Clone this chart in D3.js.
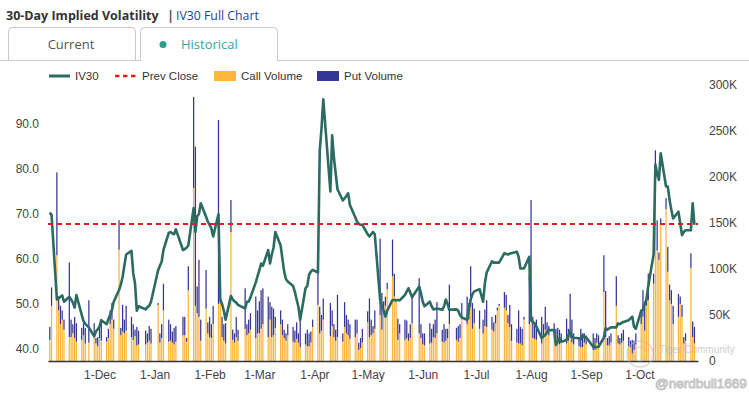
<!DOCTYPE html>
<html>
<head>
<meta charset="utf-8">
<script src="https://cdn.jsdelivr.net/npm/d3@7"></script>
<style>
  html, body { margin: 0; padding: 0; background: #fff; }
  svg { display: block; }
</style>
</head>
<body>
<svg id="chart" width="749" height="396"></svg>
<script>
// ---------- DATA ----------
const startDate = "2022-11-03";
const endDate = "2023-11-01";
const holidays = ["2022-11-24","2022-12-26","2023-01-02","2023-01-16","2023-02-20",
                  "2023-04-07","2023-05-29","2023-06-19","2023-07-04","2023-09-04"];

// IV30 per trading day (Nov-2022 ... Nov-1-2023)
const iv30 = [
  // Nov
  70.3, 69.8, 51.0, 51.3, 51.6, 51.9, 50.5, 51.6, 51.0, 50.3, 49.2, 52.0, 47.6, 46.2, 45.6, 44.8, 42.8, 43.9, 44.4,
  // Dec
  45.0, 46.4, 45.5, 46.6, 47.6, 48.7, 50.5, 53.1, 54.3, 56.0, 58.5, 61.0, 61.8, 56.8, 54.6, 48.5, 49.5, 48.8, 49.3, 49.6, 50.5,
  // Jan
  57.5, 58.5, 59.4, 62.0, 65.8, 66.0, 65.7, 65.5, 66.6, 62.0, 62.2, 62.5, 63.0, 71.3, 66.0, 69.5, 70.0, 72.4, 69.4, 68.3,
  // Feb
  67.6, 66.8, 65.0, 70.0, 51.0, 50.0, 48.5, 46.5, 51.8, 51.0, 50.6, 50.3, 49.8, 49.0, 50.5, 50.5, 51.5, 54.8, 56.2,
  // Mar
  57.5, 59.0, 58.5, 62.0, 59.0, 61.0, 62.5, 66.0, 63.0, 60.0, 57.2, 55.5, 55.0, 54.0, 52.7, 51.0, 49.4, 46.5, 53.5, 54.0, 56.5, 57.2, 57.6,
  // Apr
  57.0, 84.0, 89.0, 95.5, 75.0, 87.5, 82.5, 79.0, 75.5, 73.0, 73.5, 74.0, 74.6, 72.0, 69.3, 68.3, 67.8, 67.6, 67.6,
  // May
  65.5, 65.0, 65.5, 66.0, 65.5, 51.0, 49.5, 48.5, 47.2, 48.5, 50.9, 50.9, 50.9, 50.9, 50.8, 52.0, 52.8, 53.5, 52.5, 51.5, 53.9, 52.4,
  // Jun
  50.5, 49.5, 50.5, 49.5, 48.8, 48.9, 49.0, 48.7, 49.5, 51.0, 50.0, 48.7, 48.8, 48.5, 47.5, 47.0, 46.5, 49.0, 51.0, 52.2, 52.8,
  // Jul
  53.3, 50.5, 54.6, 57.0, 59.5, 59.2, 59.2, 59.2, 59.2, 61.3, 61.1, 61.0, 61.2, 61.3, 61.6, 60.5, 57.9, 57.9, 57.9, 60.5,
  // Aug
  46.4, 46.0, 45.7, 45.0, 42.4, 42.8, 43.1, 43.8, 44.2, 44.2, 40.9, 41.8, 42.4, 41.6, 42.0, 43.0, 43.9, 42.7, 42.5, 42.4, 42.2, 43.1, 42.6,
  // Sep
  42.6, 40.5, 40.5, 40.4, 40.5, 42.5, 44.6, 44.3, 44.6, 44.8, 44.8, 45.7, 45.5, 45.8, 46.0, 46.4, 46.8, 47.2, 44.9, 44.5,
  // Oct + Nov 1
  48.5, 48.7, 50.0, 51.0, 54.0, 61.0, 81.0, 79.0, 77.6, 83.5, 76.1, 76.1, 73.1, 70.9, 69.0, 70.5, 67.9, 65.3, 66.0, 66.4, 66.4, 72.4, 67.6
];

// Call volume (thousands)
const callVolume = [
  23, 60, 115, 55, 40, 45, 34, 26, 26, 30, 25, 21, 23, 28, 19, 20, 30, 19, 16,
  25, 22, 21, 25, 40, 45, 35, 121, 28, 32, 30, 33, 26, 23, 27, 17, 18, 18, 20, 22, 19,
  61, 20, 25, 55, 21, 22, 20, 18, 21, 28, 28, 21, 77, 188, 60, 52, 48, 22, 57, 30,
  26, 25, 40, 62, 63, 26, 22, 19, 140, 23, 20, 26, 22, 35, 28, 30, 34, 25, 30,
  30, 35, 40, 26, 45, 26, 28, 36, 40, 28, 25, 22, 28, 21, 20, 24, 20, 15, 18, 16, 16, 20, 37,
  61, 30, 33, 45, 27, 38, 26, 22, 26, 21, 37, 30, 28, 24, 26, 30, 12, 14, 20,
  42, 26, 28, 30, 35, 50, 34, 55, 60, 78, 92, 70, 64, 23, 30, 23, 25, 22, 25, 41, 30, 25,
  18, 17, 19, 20, 26, 25, 30, 21, 20, 22, 25, 40, 23, 21, 25, 48, 40, 45, 59, 35, 41,
  35, 30, 38, 37, 34, 32, 41, 55, 60, 58, 55, 41, 37, 22, 20, 19, 19, 17, 45, 40,
  45, 25, 24, 23, 19, 26, 34, 30, 28, 34, 25, 19, 18, 20, 19, 22, 25, 20, 18, 16, 15, 15, 20,
  18, 12, 12, 20, 18, 75, 26, 17, 17, 20, 60, 19, 18, 20, 22, 16, 15, 8, 12, 18,
  40, 48, 33, 60, 66, 84, 180, 120, 110, 150, 165, 97, 66, 62, 40, 48, 62, 48, 19, 22, 101, 26, 19
];

// Put volume (thousands)
const putVolume = [
  14, 20, 90, 15, 20, 10, 11, 81, 19, 10, 23, 20, 13, 13, 17, 46, 11, 6, 10,
  15, 23, 5, 10, 15, 18, 10, 32, 8, 29, 15, 27, 22, 17, 7, 20, 15, 15, 10, 16, 16,
  2, 10, 15, 29, 24, 18, 12, 18, 17, 20, 20, 4, 26, 99, 173, 29, 62, 23, 42, 12,
  22, 15, 20, 200, 29, 22, 18, 22, 35, 11, 10, 22, 12, 44, 12, 15, 18, 45, 25,
  35, 42, 39, 44, 19, 33, 29, 12, 15, 17, 9, 8, 12, 16, 13, 18, 10, 30, 12, 18, 14, 12, 8,
  65, 29, 17, 23, 36, 17, 14, 12, 46, 9, 27, 20, 17, 16, 19, 15, 8, 11, 15,
  12, 42, 17, 8, 20, 83, 40, 10, 10, 7, 40, 25, 2, 23, 10, 22, 19, 8, 15, 29, 60, 15,
  12, 13, 22, 15, 14, 20, 34, 13, 20, 13, 10, 43, 13, 17, 15, 15, 30, 18, 44, 28, 16,
  20, 15, 18, 29, 14, 10, 9, 3, 2, 17, 17, 9, 24, 18, 15, 36, 18, 18, 3, 53,
  130, 23, 16, 22, 29, 14, 25, 12, 10, 7, 10, 17, 16, 10, 27, 13, 48, 25, 12, 10, 20, 15, 10,
  10, 18, 13, 10, 10, 40, 50, 8, 10, 10, 32, 9, 7, 10, 12, 10, 7, 15, 10, 12,
  15, 29, 26, 10, 29, 11, 49, 33, 8, 5, 12, 27, 17, 15, 20, 25, 8, 13, 7, 8, 16, 17, 18
];

const prevClose = 67.8;
const ivTicks = [40, 50, 60, 70, 80, 90];
const volTicks = [0, 50000, 100000, 150000, 200000, 250000, 300000];
const legendItems = ["IV30", "Prev Close", "Call Volume", "Put Volume"];

// ---------- BUILD TRADING DAYS ----------
const parse = d3.timeParse("%Y-%m-%d");
const fmtKey = d3.timeFormat("%Y-%m-%d");
const hol = new Set(holidays);
const days = d3.timeDay.range(parse(startDate), d3.timeDay.offset(parse(endDate), 1))
  .filter(d => d.getDay() !== 0 && d.getDay() !== 6 && !hol.has(fmtKey(d)));
const n = Math.min(days.length, iv30.length, callVolume.length, putVolume.length);
const data = d3.range(n).map(i => ({
  date: days[i], iv: iv30[i], call: callVolume[i] * 1000, put: putVolume[i] * 1000
}));

// ---------- SCALES ----------
const svg = d3.select("#chart");
const pL = 48, pR = 698, pT = 85, pB = 361;
const x = d3.scaleTime()
  .domain([parse("2022-11-02"), parse("2023-11-03")])
  .range([pL, pR]);
const yIV = d3.scaleLinear().domain([40 - 12 / 4.5, 40 + 264 / 4.5]).range([pB, pT]);
const yVol = d3.scaleLinear().domain([0, 300000]).range([pB, pT]);

const FONT = "'Liberation Sans', Arial, sans-serif";
const TFONT = "'Open Sans', 'Noto Sans', sans-serif";
const cCall = "#fdb53c", cPut = "#353596", cIV = "#2b6b62", cPrev = "#e3191c";

// ---------- HEADER ----------
svg.append("text").attr("x", 6).attr("y", 20)
  .attr("font-family", TFONT).attr("font-weight", 700).attr("font-size", 12.5)
  .attr("fill", "#333").text("30-Day Implied Volatility");
svg.append("text").attr("x", 167).attr("y", 20)
  .attr("font-family", TFONT).attr("font-weight", 700).attr("font-size", 13)
  .attr("fill", "#555").text("|");
svg.append("text").attr("x", 176).attr("y", 20)
  .attr("font-family", TFONT).attr("font-size", 12.3)
  .attr("fill", "#1f3f93").text("IV30 Full Chart");

// tabs
svg.append("line").attr("x1", 0).attr("x2", 749).attr("y1", 60.5).attr("y2", 60.5)
  .attr("stroke", "#c8c8c8");
function tab(x0, x1, active) {
  const r = 4, y0 = 27.5, y1 = 60.5;
  const p = `M${x0},${y1} L${x0},${y0 + r} Q${x0},${y0} ${x0 + r},${y0} L${x1 - r},${y0} Q${x1},${y0} ${x1},${y0 + r} L${x1},${y1}` + (active ? "" : " Z");
  if (active) {
    svg.append("rect").attr("x", x0 + 0.5).attr("y", 58).attr("width", x1 - x0 - 1).attr("height", 4).attr("fill", "#fff");
  }
  svg.append("path").attr("d", p).attr("fill", "#fff").attr("stroke", "#c8c8c8");
}
tab(8.5, 135.5, false);
tab(140.5, 277.5, true);
svg.append("text").attr("x", 71).attr("y", 48.5).attr("text-anchor", "middle")
  .attr("font-family", TFONT).attr("font-size", 13).attr("fill", "#555").text("Current");
svg.append("circle").attr("cx", 163).attr("cy", 44.5).attr("r", 3.5).attr("fill", "#2a9d8f");
svg.append("text").attr("x", 181).attr("y", 48.5)
  .attr("font-family", TFONT).attr("font-size", 13).attr("fill", "#3aa39b").text("Historical");

// ---------- LEGEND ----------
const lg = svg.append("g").attr("font-family", FONT).attr("font-size", 11.5).attr("fill", "#333");
lg.append("line").attr("x1", 49).attr("x2", 70).attr("y1", 76).attr("y2", 76)
  .attr("stroke", cIV).attr("stroke-width", 3);
lg.append("text").attr("x", 75).attr("y", 80).text(legendItems[0]);
lg.append("line").attr("x1", 115).attr("x2", 137).attr("y1", 76).attr("y2", 76)
  .attr("stroke", cPrev).attr("stroke-width", 2.5).attr("stroke-dasharray", "4.5,3.5");
lg.append("text").attr("x", 142).attr("y", 80).text(legendItems[1]);
lg.append("rect").attr("x", 214).attr("y", 71).attr("width", 22).attr("height", 10).attr("fill", cCall);
lg.append("text").attr("x", 241).attr("y", 80).text(legendItems[2]);
lg.append("rect").attr("x", 317).attr("y", 71).attr("width", 22).attr("height", 10).attr("fill", cPut);
lg.append("text").attr("x", 344).attr("y", 80).text(legendItems[3]);

// ---------- AXES ----------
const axL = svg.append("g").attr("transform", `translate(${pL - 9},0)`)
  .call(d3.axisLeft(yIV).tickValues(ivTicks).tickFormat(d3.format(".1f")).tickSize(0).tickPadding(0));
axL.select(".domain").remove();
axL.selectAll("text").attr("font-family", FONT).attr("font-size", 12).attr("fill", "#444");

const axR = svg.append("g").attr("transform", `translate(${pR + 11},0)`)
  .call(d3.axisRight(yVol).tickValues(volTicks)
    .tickFormat(d => d === 0 ? "0" : (d / 1000) + "K").tickSize(0).tickPadding(0));
axR.select(".domain").remove();
axR.selectAll("text").attr("font-family", FONT).attr("font-size", 12).attr("fill", "#444");

// ---------- BARS ----------
const bw = 1.25;
const bars = svg.append("g");
bars.selectAll("rect.call").data(data).join("rect").attr("class", "call")
  .attr("x", d => x(d.date) - bw / 2).attr("width", bw)
  .attr("y", d => yVol(d.call)).attr("height", d => pB - yVol(d.call))
  .attr("fill", cCall);
bars.selectAll("rect.put").data(data).join("rect").attr("class", "put")
  .attr("x", d => x(d.date) - bw / 2).attr("width", bw)
  .attr("y", d => yVol(d.call + d.put)).attr("height", d => yVol(d.call) - yVol(d.call + d.put))
  .attr("fill", cPut);

// bottom axis
const axB = svg.append("g").attr("transform", `translate(0,${pB})`)
  .call(d3.axisBottom(x).ticks(d3.timeMonth.every(1))
    .tickFormat(d3.timeFormat("%-d-%b")).tickSize(0).tickPadding(9));
axB.select(".domain").attr("stroke", "#333").attr("stroke-width", 1.6);
axB.selectAll("text").attr("font-family", FONT).attr("font-size", 12).attr("fill", "#444");
axB.selectAll(".tick").filter(d => d < parse("2022-11-15") || d > parse("2023-10-15")).remove();

// ---------- IV LINE ----------
svg.append("path").datum(data)
  .attr("d", d3.line().x(d => x(d.date)).y(d => yIV(d.iv)))
  .attr("fill", "none").attr("stroke", cIV).attr("stroke-width", 2.6)
  .attr("stroke-linejoin", "round");

// prev close
svg.append("line").attr("x1", pL).attr("x2", pR)
  .attr("y1", yIV(prevClose)).attr("y2", yIV(prevClose))
  .attr("stroke", cPrev).attr("stroke-width", 2).attr("stroke-dasharray", "5,4");

// ---------- WATERMARK ----------
const wm = svg.append("g").attr("opacity", 0.55);
wm.append("circle").attr("cx", 640).attr("cy", 354).attr("r", 13)
  .attr("fill", "none").attr("stroke", "#bbb").attr("stroke-width", 1.5);
wm.append("circle").attr("cx", 640).attr("cy", 354).attr("r", 7)
  .attr("fill", "none").attr("stroke", "#bbb").attr("stroke-width", 1.2);
wm.append("text").attr("x", 659).attr("y", 353).attr("font-family", FONT)
  .attr("font-size", 10).attr("fill", "#aaa").text("Tiger Community");
svg.append("text").attr("x", 655).attr("y", 388).attr("font-family", FONT)
  .attr("font-size", 13.5).attr("fill", "#fff").attr("stroke", "#c4c4c4").attr("stroke-width", 1)
  .text("@nerdbull1669");
</script>
</body>
</html>
